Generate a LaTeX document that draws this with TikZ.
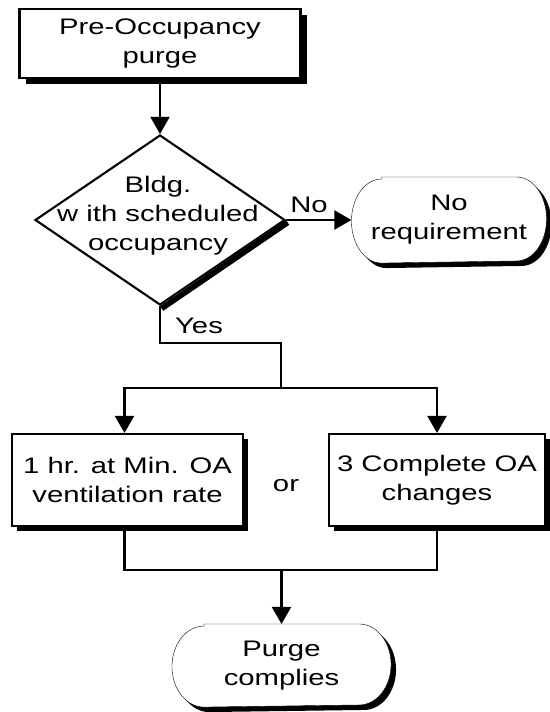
\documentclass[tikz,border=0pt]{standalone}
\usepackage{fontspec}
\setmainfont{Liberation Sans}[FakeStretch=1.3]
\usetikzlibrary{arrows.meta,shapes.geometric,shadows,backgrounds}
\newcommand\termoutline[3]{([xshift=#2]#1.north west) -- ([xshift=-#2]#1.north east) arc[start angle=90,end angle=-90,x radius=#2,y radius=#3] -- ([xshift=#2]#1.south west) arc[start angle=270,end angle=90,x radius=#2,y radius=#3] -- cycle}
\begin{document}
\begin{tikzpicture}[x=1pt,y=-1pt,line width=2.1pt,
  font=\fontsize{22.5}{29}\selectfont,
  every node/.style={align=center},
  procbox/.style={rectangle,draw,fill=white,inner sep=0pt,
    drop shadow={shadow xshift=#1,shadow yshift=-#1,opacity=1,fill=black}},
  procbox/.default=5pt,
  termnode/.style={rectangle,inner sep=0pt},
  arr/.style={-{Triangle[width=19pt,length=17pt]},line width=2.1pt},
  lbl/.style={anchor=base,inner sep=0pt}]
\begin{scope}[on background layer]
  \fill[white] (0,0) rectangle (549,712);
\end{scope}
\useasboundingbox (0,0) rectangle (549,712);

% nodes
\node[procbox=6pt,minimum width=281pt,minimum height=69pt] (top) at (160,43.5) {Pre-Occupancy\\purge};
\node[diamond,draw,fill=white,minimum width=250pt,minimum height=170pt,inner sep=0pt] (d) at (160,220) {};
\node (dtext) at (158,216) {Bldg.\\w ith scheduled\\occupancy};
\node[termnode,minimum width=193pt,minimum height=84pt] (noreq) at (449,220) {No\\requirement};
\node[procbox=5pt,minimum width=231pt,minimum height=92pt] (b1) at (127.5,480) {1 hr. at Min. OA\\ventilation rate};
\node[procbox=5pt,minimum width=216pt,minimum height=92pt] (b2) at (437,480) {3 Complete OA\\changes};
\node[termnode,minimum width=217pt,minimum height=81pt] (purge) at (281.5,665.5) {Purge\\complies};

\node[lbl] (nolab) at (309,212) {No};
\node[lbl] (yeslab) at (199,333) {Yes};
\node[lbl] (orlab) at (286,491) {or};

% terminal outlines with shadows
\begin{scope}[on background layer]
  \fill[transform canvas={shift={(5pt,-5pt)}}] \termoutline{noreq}{30pt}{42pt};
  \draw[fill=white] \termoutline{noreq}{30pt}{42pt};
  \fill[transform canvas={shift={(5pt,-5pt)}}] \termoutline{purge}{32pt}{40.5pt};
  \draw[fill=white] \termoutline{purge}{32pt}{40.5pt};
\end{scope}

% diamond shadow edge
\fill (d.east) -- (d.south) -- ([shift={(3.2pt,-4.8pt)}]d.south) -- ([shift={(3.2pt,-4.8pt)}]d.east) -- cycle;

% connectors
\coordinate (yb) at (281,343);
\coordinate (split) at (281,388);
\coordinate (merge) at (281.5,570);

\draw[arr] (top.south) -- (d.north);
\draw[arr] (d.east) -- (noreq.west);
\draw (d.south) |- (yb) -- (split);
\draw[arr] (split) -| ([xshift=-3pt]b1.north);
\draw[arr] (split) -| (b2.north);
\draw ([xshift=-3pt]b1.south) |- (merge) -| (b2.south);
\draw[arr] (merge) -- (purge.north);
\end{tikzpicture}
\end{document}
